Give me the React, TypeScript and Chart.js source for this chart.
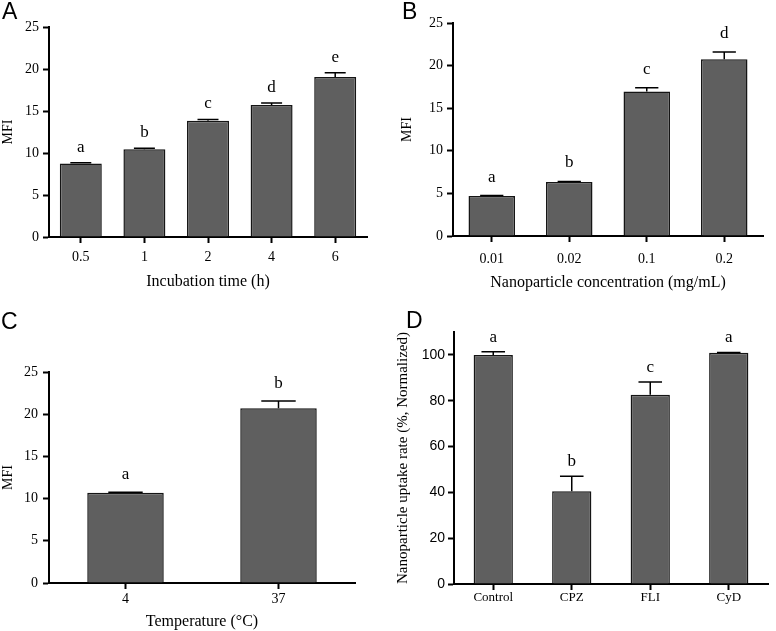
import React, { useEffect, useRef } from 'react';
import { Chart, registerables } from 'chart.js';
Chart.register(...registerables);

// ---------- data ----------
const categoriesA = ['0.5', '1', '2', '4', '6'];
const valuesA = [8.75, 10.45, 13.85, 15.7, 19.05];
const errorsA = [0.1, 0.12, 0.15, 0.25, 0.5];
const lettersA = ['a', 'b', 'c', 'd', 'e'];

const categoriesB = ['0.01', '0.02', '0.1', '0.2'];
const valuesB = [4.7, 6.33, 16.95, 20.75];
const errorsB = [0.05, 0.08, 0.45, 0.85];
const lettersB = ['a', 'b', 'c', 'd'];

const categoriesC = ['4', '37'];
const valuesC = [10.7, 20.7];
const errorsC = [0.05, 0.85];
const lettersC = ['a', 'b'];

const categoriesD = ['Control', 'CPZ', 'FLI', 'CyD'];
const valuesD = [100, 40.5, 82.6, 100.9];
const errorsD = [1.4, 6.5, 5.6, 0.2];
const lettersD = ['a', 'b', 'c', 'a'];

const SERIF = '"Liberation Serif", "Times New Roman", serif';
const SANS = '"Liberation Sans", Arial, sans-serif';

type Panel = {
  id: string;
  cats: string[];
  vals: number[];
  errs: number[];
  letters: string[];
  canvas: { left: number; top: number; w: number; h: number };
  pad: { left: number; top: number; right: number; bottom: number };
  yWidth: number;
  xHeight: number;
  barPct: number;
  yMax: number;
  step: number;
  maxTick: number;
  xTitle: string;
  xTitleSize: number;
  xTitlePad: number;
  yTitle: string;
  yTitleSize: number;
  xTickPad: number;
  yTickPad: number;
  xTickFont: { family: string; size: number };
  yTickFont: { family: string; size: number };
  letterGap: number;
  capRatio: number;
  panelX: number;
  panelY: number;
};

const panels: Panel[] = [
  {
    id: 'A', cats: categoriesA, vals: valuesA, errs: errorsA, letters: lettersA,
    canvas: { left: 0, top: 0, w: 388, h: 300 },
    pad: { left: 0, top: 27, right: 21, bottom: 0 },
    yWidth: 49, xHeight: 63, barPct: 0.66, yMax: 25, step: 5, maxTick: 25,
    xTitle: 'Incubation time (h)', xTitleSize: 16, xTitlePad: 9,
    yTitle: 'MFI', yTitleSize: 14,
    xTickPad: 6, yTickPad: 4,
    xTickFont: { family: SERIF, size: 14 }, yTickFont: { family: SERIF, size: 14 },
    letterGap: 11, capRatio: 0.5, panelX: 2, panelY: 19,
  },
  {
    id: 'B', cats: categoriesB, vals: valuesB, errs: errorsB, letters: lettersB,
    canvas: { left: 390, top: 0, w: 386, h: 300 },
    pad: { left: 9, top: 23, right: 13, bottom: 0 },
    yWidth: 54, xHeight: 64, barPct: 0.6, yMax: 25, step: 5, maxTick: 25,
    xTitle: 'Nanoparticle concentration (mg/mL)', xTitleSize: 16, xTitlePad: 8,
    yTitle: 'MFI', yTitleSize: 14,
    xTickPad: 9, yTickPad: 4,
    xTickFont: { family: SERIF, size: 14 }, yTickFont: { family: SERIF, size: 14 },
    letterGap: 14, capRatio: 0.5, panelX: 12, panelY: 19,
  },
  {
    id: 'C', cats: categoriesC, vals: valuesC, errs: errorsC, letters: lettersC,
    canvas: { left: 0, top: 300, w: 388, h: 331 },
    pad: { left: 0, top: 72, right: 33, bottom: 0 },
    yWidth: 49, xHeight: 48, barPct: 0.5, yMax: 25, step: 5, maxTick: 25,
    xTitle: 'Temperature (\u00B0C)', xTitleSize: 16, xTitlePad: 0,
    yTitle: 'MFI', yTitleSize: 14,
    xTickPad: 2, yTickPad: 5,
    xTickFont: { family: SERIF, size: 14 }, yTickFont: { family: SERIF, size: 14 },
    letterGap: 13, capRatio: 0.45, panelX: 1, panelY: 29,
  },
  {
    id: 'D', cats: categoriesD, vals: valuesD, errs: errorsD, letters: lettersD,
    canvas: { left: 390, top: 300, w: 386, h: 331 },
    pad: { left: 4, top: 32, right: 8, bottom: 0 },
    yWidth: 60, xHeight: 47, barPct: 0.5, yMax: 110, step: 20, maxTick: 100,
    xTitle: '', xTitleSize: 16, xTitlePad: 0,
    yTitle: 'Nanoparticle uptake rate (%, Normalized)', yTitleSize: 15,
    xTickPad: 0, yTickPad: 3,
    xTickFont: { family: SERIF, size: 13 }, yTickFont: { family: SANS, size: 14 },
    letterGap: 10, capRatio: 0.6, panelX: 16, panelY: 28,
  },
];

function makePlugin(p: Panel) {
  return {
    id: 'errorBars' + p.id,
    afterDatasetsDraw(chart: any) {
      const { ctx } = chart;
      const meta = chart.getDatasetMeta(0);
      const y = chart.scales.y;
      const ds = chart.data.datasets[0];
      ctx.save();
      meta.data.forEach((bar: any, i: number) => {
        const { x, y: top, width } = bar.getProps(['x', 'y', 'width'], true);
        const yErr = y.getPixelForValue(ds.data[i] + p.errs[i]);
        const cap = (width * p.capRatio) / 2;
        ctx.strokeStyle = '#000';
        ctx.lineWidth = 1.5;
        ctx.beginPath();
        ctx.moveTo(x, top);
        ctx.lineTo(x, yErr);
        ctx.moveTo(x - cap, yErr);
        ctx.lineTo(x + cap, yErr);
        ctx.stroke();
        ctx.fillStyle = '#000';
        ctx.font = '17px ' + SERIF;
        ctx.textAlign = 'center';
        ctx.textBaseline = 'alphabetic';
        ctx.fillText(p.letters[i], x, yErr - p.letterGap);
      });
      ctx.font = '23px ' + SANS;
      ctx.textAlign = 'left';
      ctx.textBaseline = 'alphabetic';
      ctx.fillStyle = '#000';
      ctx.fillText(p.id, p.panelX, p.panelY);
      ctx.restore();
    },
  };
}

function PanelChart({ p }: { p: Panel }) {
  const ref = useRef<HTMLCanvasElement>(null);
  useEffect(() => {
    if (!ref.current) return;
    const chart = new Chart(ref.current, {
      type: 'bar',
      data: {
        labels: p.cats,
        datasets: [
          {
            data: p.vals,
            backgroundColor: '#5f5f5f',
            borderColor: '#151515',
            borderWidth: 1.5,
            barPercentage: p.barPct,
            categoryPercentage: 1,
          },
        ],
      },
      options: {
        responsive: false,
        animation: false,
        layout: { padding: p.pad },
        plugins: { legend: { display: false }, tooltip: { enabled: false } },
        scales: {
          x: {
            offset: true,
            grid: {
              display: true,
              drawOnChartArea: false,
              drawTicks: true,
              tickLength: 6,
              tickWidth: 2,
              tickColor: '#000',
              offset: false,
            },
            border: { display: true, color: '#000', width: 2 },
            ticks: {
              color: '#000',
              font: p.xTickFont,
              padding: p.xTickPad,
              autoSkip: false,
              maxRotation: 0,
            },
            title: {
              display: !!p.xTitle,
              text: p.xTitle,
              color: '#000',
              font: { family: SERIF, size: p.xTitleSize },
              padding: { top: 0, bottom: p.xTitlePad },
            },
            afterFit: (s: any) => {
              s.height = p.xHeight;
            },
          },
          y: {
            min: 0,
            max: p.yMax,
            grid: {
              display: true,
              drawOnChartArea: false,
              drawTicks: true,
              tickLength: 6,
              tickWidth: 2,
              tickColor: '#000',
            },
            border: { display: true, color: '#000', width: 2 },
            ticks: {
              stepSize: p.step,
              color: '#000',
              font: p.yTickFont,
              padding: p.yTickPad,
            },
            title: {
              display: true,
              text: p.yTitle,
              color: '#000',
              font: { family: SERIF, size: p.yTitleSize },
              padding: { top: 0, bottom: 0 },
            },
            afterBuildTicks: (s: any) => {
              s.ticks = s.ticks.filter((t: any) => t.value <= p.maxTick);
            },
            afterFit: (s: any) => {
              s.width = p.yWidth;
            },
          },
        },
      },
      plugins: [makePlugin(p)],
    } as any);
    return () => chart.destroy();
  }, [p]);
  return (
    <canvas
      ref={ref}
      width={p.canvas.w}
      height={p.canvas.h}
      style={{
        position: 'absolute',
        left: p.canvas.left,
        top: p.canvas.top,
        width: p.canvas.w,
        height: p.canvas.h,
      }}
    />
  );
}

export default function App() {
  return (
    <div
      style={{
        position: 'absolute',
        left: 0,
        top: 0,
        width: 776,
        height: 631,
        background: '#fff',
        overflow: 'hidden',
      }}
    >
      {panels.map((p) => (
        <PanelChart key={p.id} p={p} />
      ))}
    </div>
  );
}
